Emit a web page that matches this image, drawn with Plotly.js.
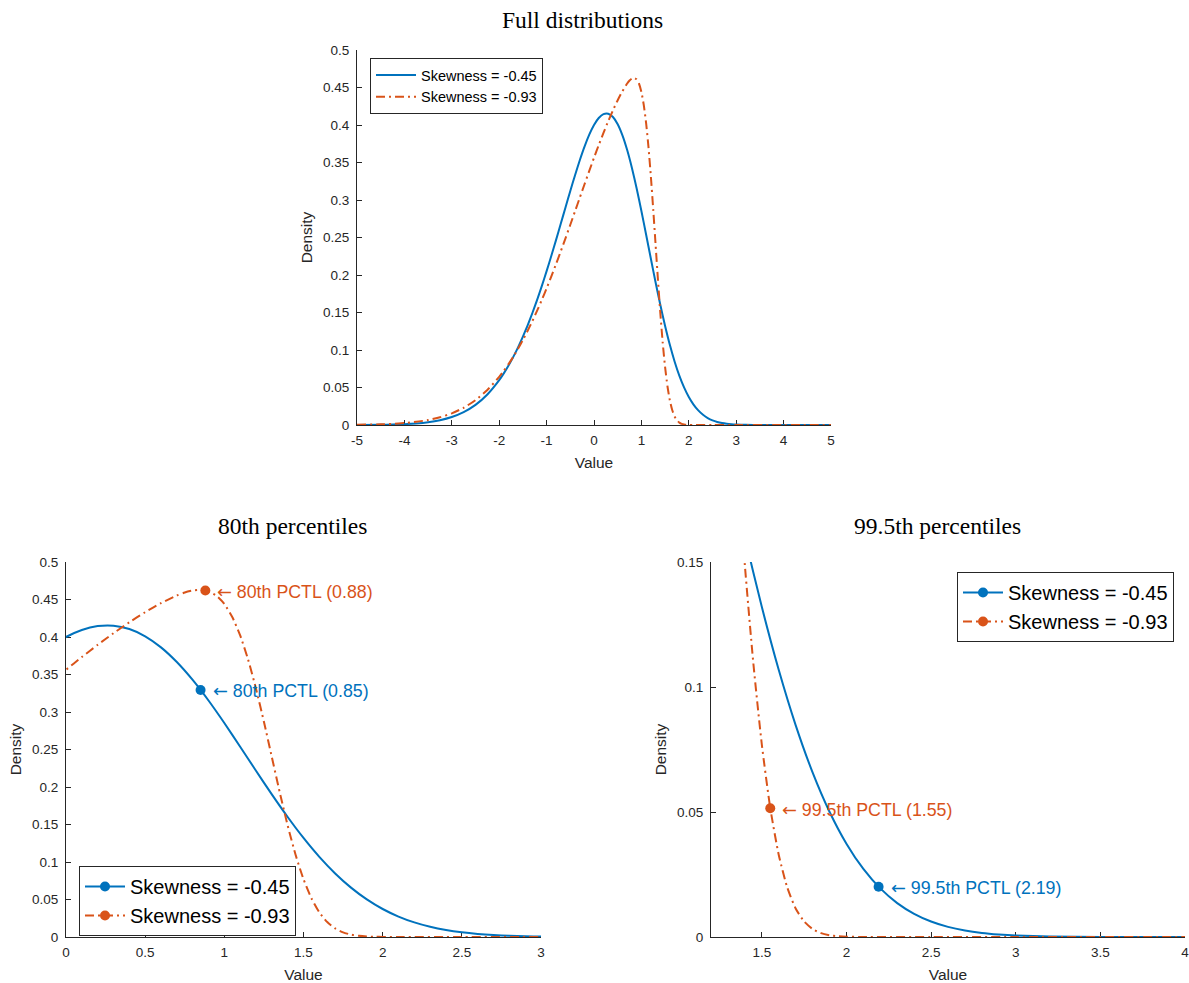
<!DOCTYPE html>
<html>
<head>
<meta charset="utf-8">
<script src="https://cdn.plot.ly/plotly-3.0.1.min.js"></script>
<style>html,body{margin:0;padding:0;background:#fff;}#chart{width:1189px;height:983px;}</style>
</head>
<body>
<div id="chart"></div>
<script>
// ---- Data ----
const seriesNames = ["Skewness = -0.45", "Skewness = -0.93"];

const xBlue = [-5,-4.5,-4.25,-4,-3.75,-3.5,-3.25,-3,-2.75,-2.5,-2.25,-2,-1.9,-1.8,-1.7,-1.6,-1.5,-1.4,-1.3,-1.2,-1.1,-1,-0.9,-0.8,-0.7,-0.6,-0.5,-0.4,-0.3,-0.2,-0.1,0,0.1,0.2,0.3,0.4,0.5,0.6,0.7,0.8,0.9,1,1.1,1.2,1.3,1.4,1.5,1.6,1.7,1.8,1.9,2,2.1,2.2,2.3,2.4,2.5,2.6,2.7,2.8,2.9,3,3.2,3.5,4,4.5,5];
const yBlue = [0.00008,0.00032,0.00062,0.00116,0.00211,0.00373,0.00639,0.01063,0.01714,0.02678,0.04063,0.05974,0.06912,0.07955,0.09113,0.10387,0.11783,0.13297,0.14934,0.16687,0.18549,0.20513,0.22570,0.24687,0.26859,0.29040,0.31205,0.33309,0.35300,0.37117,0.38706,0.40000,0.40937,0.41456,0.41509,0.41060,0.40095,0.38617,0.36657,0.34270,0.31530,0.28530,0.25373,0.22166,0.19010,0.15999,0.13207,0.10688,0.08477,0.06586,0.05012,0.03734,0.02724,0.01944,0.01357,0.00927,0.00620,0.00405,0.00259,0.00161,0.00099,0.00059,0.00020,0.00003,0,0,0];

const xOrange = [-5,-4.5,-4.25,-4,-3.75,-3.5,-3.25,-3,-2.75,-2.5,-2.25,-2,-1.9,-1.8,-1.7,-1.6,-1.5,-1.4,-1.3,-1.2,-1.1,-1,-0.9,-0.8,-0.7,-0.6,-0.5,-0.4,-0.3,-0.2,-0.1,0,0.1,0.2,0.3,0.4,0.5,0.6,0.7,0.75,0.8,0.85,0.9,0.95,1,1.05,1.1,1.15,1.2,1.25,1.3,1.35,1.4,1.45,1.5,1.55,1.6,1.65,1.7,1.75,1.8,1.85,1.9,1.95,2,2.1,2.5,3,4,5];
const yOrange = [0.00030,0.00092,0.00157,0.00260,0.00421,0.00667,0.01031,0.01557,0.02297,0.03313,0.04665,0.06420,0.07247,0.08150,0.09131,0.10193,0.11334,0.12557,0.13861,0.15242,0.16699,0.18227,0.19821,0.21473,0.23177,0.24922,0.26699,0.28498,0.30304,0.32102,0.33880,0.35628,0.37324,0.38955,0.40505,0.41960,0.43305,0.44515,0.45535,0.45929,0.46197,0.46277,0.46084,0.45500,0.44403,0.42669,0.40211,0.37007,0.33114,0.28696,0.23992,0.19288,0.14868,0.10960,0.07710,0.05165,0.03290,0.01991,0.01143,0.00622,0.00320,0.00156,0.00072,0.00031,0.00013,0.00002,0,0,0,0];

// percentile points [blue, orange]
const pctl80 = [0.85, 0.88];
const dens80 = [0.3294, 0.4620];
const pctl995 = [2.19, 1.55];
const dens995 = [0.0201, 0.0515];

const topXTicks = [-5,-4,-3,-2,-1,0,1,2,3,4,5];
const topXTickText = ["-5","-4","-3","-2","-1","0","1","2","3","4","5"];

// ---- Styling ----
const BLUE = "#0072BD", ORANGE = "#D95319", AX = "#262626";
const FONT = "Liberation Sans, Arial, Helvetica, sans-serif";
const SERIF = "Liberation Serif, Times New Roman, serif";
const lineBlue = {color: BLUE, width: 2, shape: "spline", smoothing: 0.6};
const lineOrange = {color: ORANGE, width: 2, dash: "9px,4px,2px,4px", shape: "spline", smoothing: 0.6};

const traces = [];
// top
traces.push({x: xBlue, y: yBlue, xaxis: "x", yaxis: "y", mode: "lines", line: lineBlue, name: seriesNames[0], legend: "legend"});
traces.push({x: xOrange, y: yOrange, xaxis: "x", yaxis: "y", mode: "lines", line: lineOrange, name: seriesNames[1], legend: "legend"});
// bottom-left
traces.push({x: xBlue, y: yBlue, xaxis: "x2", yaxis: "y2", mode: "lines", line: lineBlue, showlegend: false});
traces.push({x: xOrange, y: yOrange, xaxis: "x2", yaxis: "y2", mode: "lines", line: lineOrange, showlegend: false});
traces.push({x: [pctl80[0]], y: [dens80[0]], xaxis: "x2", yaxis: "y2", mode: "lines+markers", line: lineBlue, marker: {color: BLUE, size: 10}, name: seriesNames[0], legend: "legend2"});
traces.push({x: [pctl80[1]], y: [dens80[1]], xaxis: "x2", yaxis: "y2", mode: "lines+markers", line: lineOrange, marker: {color: ORANGE, size: 10}, name: seriesNames[1], legend: "legend2"});
// bottom-right
traces.push({x: xBlue, y: yBlue, xaxis: "x3", yaxis: "y3", mode: "lines", line: lineBlue, showlegend: false});
traces.push({x: xOrange, y: yOrange, xaxis: "x3", yaxis: "y3", mode: "lines", line: lineOrange, showlegend: false});
traces.push({x: [pctl995[0]], y: [dens995[0]], xaxis: "x3", yaxis: "y3", mode: "lines+markers", line: lineBlue, marker: {color: BLUE, size: 10}, name: seriesNames[0], legend: "legend3"});
traces.push({x: [pctl995[1]], y: [dens995[1]], xaxis: "x3", yaxis: "y3", mode: "lines+markers", line: lineOrange, marker: {color: ORANGE, size: 10}, name: seriesNames[1], legend: "legend3"});

function axisBase(extra) {
  return Object.assign({
    showline: true, linecolor: AX, linewidth: 1, mirror: false,
    ticks: "inside", ticklen: 5, tickwidth: 1, tickcolor: AX,
    showgrid: false, zeroline: false, fixedrange: true,
    tickfont: {family: FONT, size: 13.5, color: AX},
    ticklabeloverflow: "allow",
    layer: "below traces"
  }, extra);
}
function ttl(t, standoff) { return {text: t, font: {family: FONT, size: 15.5, color: AX}, standoff: standoff}; }

const W = 1189, H = 983;
const px = v => v / W, py = v => 1 - v / H;

const layout = {
  width: W, height: H,
  margin: {l: 0, r: 0, t: 0, b: 0},
  paper_bgcolor: "#fff", plot_bgcolor: "rgba(0,0,0,0)",
  font: {family: FONT, color: AX},
  showlegend: true,
  xaxis: axisBase({domain: [px(357), px(831)], range: [-5, 5], tickvals: topXTicks, ticktext: topXTickText, ticklabelstandoff: 3, title: ttl("Value", 9), anchor: "y"}),
  yaxis: axisBase({domain: [py(425), py(50)], range: [0, 0.5], dtick: 0.05, tick0: 0, ticklabelstandoff: 4, title: ttl("Density", 6), anchor: "x"}),
  xaxis2: axisBase({domain: [px(66), px(541)], range: [0, 3], dtick: 0.5, tick0: 0, ticklabelstandoff: 3, title: ttl("Value", 9), anchor: "y2"}),
  yaxis2: axisBase({domain: [py(937), py(562)], range: [0, 0.5], dtick: 0.05, tick0: 0, ticklabelstandoff: 4, title: ttl("Density", 6), anchor: "x2"}),
  xaxis3: axisBase({domain: [px(711), px(1185)], range: [1.2, 4], dtick: 0.5, tick0: 0, ticklabelstandoff: 3, title: ttl("Value", 9), anchor: "y3"}),
  yaxis3: axisBase({domain: [py(937), py(562)], range: [0, 0.15], dtick: 0.05, tick0: 0, ticklabelstandoff: 4, title: ttl("Density", 6), anchor: "x3"}),
  legend: {x: px(370), y: py(58), xanchor: "left", yanchor: "top", bgcolor: "#fff", bordercolor: AX, borderwidth: 1, font: {family: FONT, size: 14.5, color: "#000"}, tracegroupgap: 0, itemwidth: 40},
  legend2: {x: px(79), y: py(866), xanchor: "left", yanchor: "top", bgcolor: "#fff", bordercolor: AX, borderwidth: 1, font: {family: FONT, size: 20, color: "#000"}, tracegroupgap: 0, itemwidth: 40},
  legend3: {x: px(1174), y: py(572), xanchor: "right", yanchor: "top", bgcolor: "#fff", bordercolor: AX, borderwidth: 1, font: {family: FONT, size: 20, color: "#000"}, tracegroupgap: 0, itemwidth: 40},
  annotations: [
    {text: "Full distributions", xref: "paper", yref: "paper", x: px(582), y: py(20), xanchor: "center", yanchor: "middle", showarrow: false, font: {family: SERIF, size: 23.5, color: "#000"}},
    {text: "80th percentiles", xref: "paper", yref: "paper", x: px(292), y: py(526), xanchor: "center", yanchor: "middle", showarrow: false, font: {family: SERIF, size: 23.5, color: "#000"}},
    {text: "99.5th percentiles", xref: "paper", yref: "paper", x: px(937), y: py(526), xanchor: "center", yanchor: "middle", showarrow: false, font: {family: SERIF, size: 23.5, color: "#000"}}
  ]
};

const ARROW = '<span style="font-family:DejaVu Sans">\u2190</span> ';
function pctlNote(prefix, xr, yr, xv, yv, color) {
  return {text: ARROW + prefix + " PCTL (" + xv.toFixed(2) + ")", xref: xr, yref: yr, x: xv, y: yv,
    xanchor: "left", yanchor: "middle", xshift: 10, yshift: -1, showarrow: false,
    font: {family: FONT, size: 17.8, color: color}};
}
layout.annotations.push(pctlNote("80th", "x2", "y2", pctl80[1], dens80[1], ORANGE));
layout.annotations.push(pctlNote("80th", "x2", "y2", pctl80[0], dens80[0], BLUE));
layout.annotations.push(pctlNote("99.5th", "x3", "y3", pctl995[1], dens995[1], ORANGE));
layout.annotations.push(pctlNote("99.5th", "x3", "y3", pctl995[0], dens995[0], BLUE));

Plotly.newPlot("chart", traces, layout, {displayModeBar: false, staticPlot: true});
</script>
</body>
</html>
